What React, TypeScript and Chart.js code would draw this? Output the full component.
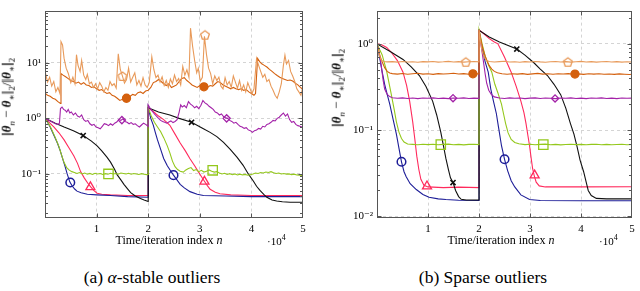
import React, { useEffect, useRef } from 'react';
import { Chart, registerables } from 'chart.js';

Chart.register(...registerables);

type P = [number, number];

// ---------- (a) alpha-stable outliers ----------
const aLightOrange: P[] = [
  [0, 1.0], [0.01, 6.5], [0.05, 4.5], [0.09, 5.5], [0.13, 3.8], [0.17, 4.6], [0.21, 3.0], [0.25, 3.6], [0.29, 2.8],
  [0.31, 24], [0.34, 21], [0.37, 12], [0.41, 8], [0.45, 6.5], [0.5, 4.4], [0.54, 5.5], [0.58, 4.2], [0.61, 14],
  [0.64, 9], [0.68, 7], [0.71, 11], [0.75, 6], [0.79, 5], [0.82, 6.2], [0.86, 4.2], [0.9, 4.5], [0.94, 3.6],
  [0.98, 4.2], [1.02, 3.4], [1.06, 4.4], [1.1, 3.8], [1.14, 3.0], [1.18, 3.6], [1.22, 3.2], [1.26, 4.6], [1.3, 3.9],
  [1.34, 4.2], [1.38, 3.5], [1.42, 14.5], [1.46, 7.5], [1.5, 5.8], [1.54, 4.3], [1.58, 5.0], [1.62, 8.0], [1.66, 4.5],
  [1.7, 5.5], [1.74, 6.6], [1.78, 4.0], [1.82, 4.8], [1.86, 3.8], [1.9, 5.4], [1.94, 4.0], [1.98, 3.6], [2.02, 4.4],
  [2.07, 12.8], [2.11, 7.5], [2.15, 5.4], [2.19, 6.0], [2.23, 4.5], [2.27, 5.6], [2.31, 3.9], [2.35, 4.8], [2.39, 3.6],
  [2.43, 5.1], [2.47, 4.2], [2.51, 6.0], [2.55, 4.6], [2.59, 5.2], [2.63, 4.0], [2.67, 8.6], [2.71, 6.0], [2.75, 7.5],
  [2.79, 5.5], [2.82, 42], [2.86, 20], [2.9, 11], [2.94, 6.6], [2.97, 8.0], [3.01, 4.7], [3.05, 5.5], [3.09, 30],
  [3.13, 14], [3.17, 8], [3.21, 6.4], [3.25, 4.2], [3.29, 5.8], [3.33, 4.8], [3.37, 5.5], [3.41, 3.8], [3.45, 3.4],
  [3.49, 5.4], [3.53, 4.0], [3.57, 4.6], [3.61, 3.6], [3.65, 5.8], [3.69, 4.5], [3.73, 3.5], [3.77, 4.8], [3.81, 3.2],
  [3.85, 4.0], [3.89, 3.0], [3.93, 4.4], [3.97, 3.5], [4.01, 2.8], [4.05, 3.4], [4.1, 12], [4.14, 9], [4.18, 7],
  [4.22, 5.5], [4.26, 6.2], [4.3, 4.6], [4.34, 5.0], [4.38, 3.8], [4.42, 3.2], [4.46, 2.6], [4.5, 2.3], [4.54, 3.0],
  [4.58, 4.2], [4.62, 9], [4.65, 13.7], [4.68, 9.5], [4.72, 11], [4.76, 7], [4.8, 5.8], [4.84, 4.6], [4.88, 3.4],
  [4.92, 3.0], [4.96, 2.6], [5.0, 3.8],
];
const aDarkOrange: P[] = [
  [0, 1.0], [0.01, 2.8], [0.05, 2.6], [0.1, 2.5], [0.15, 2.3], [0.2, 2.2], [0.25, 2.0], [0.3, 1.85], [0.31, 6.4],
  [0.35, 6.0], [0.4, 5.6], [0.45, 5.2], [0.5, 4.8], [0.55, 4.6], [0.6, 4.3], [0.65, 4.5], [0.7, 4.1], [0.75, 4.4],
  [0.8, 4.0], [0.85, 3.9], [0.9, 3.6], [0.95, 3.7], [1.0, 3.4], [1.05, 3.2], [1.1, 3.3], [1.15, 3.0], [1.2, 2.8],
  [1.25, 2.9], [1.3, 2.6], [1.35, 2.5], [1.4, 2.3], [1.45, 2.1], [1.5, 2.2], [1.55, 2.0], [1.6, 2.3], [1.65, 2.5],
  [1.7, 2.7], [1.75, 2.6], [1.8, 2.9], [1.85, 3.0], [1.9, 2.8], [1.95, 3.1], [2.0, 3.2], [2.05, 3.6], [2.1, 4.4],
  [2.15, 4.6], [2.2, 5.0], [2.25, 4.6], [2.3, 4.2], [2.35, 3.9], [2.4, 4.2], [2.45, 3.6], [2.5, 3.8], [2.55, 4.0],
  [2.6, 4.6], [2.65, 5.2], [2.7, 5.4], [2.75, 4.8], [2.8, 4.4], [2.85, 4.0], [2.9, 3.8], [2.95, 3.6], [3.0, 3.9],
  [3.05, 3.7], [3.1, 3.8], [3.15, 3.6], [3.2, 3.9], [3.25, 3.8], [3.3, 4.2], [3.35, 4.6], [3.4, 4.4], [3.45, 4.0],
  [3.5, 3.8], [3.55, 3.6], [3.6, 3.4], [3.65, 3.6], [3.7, 3.4], [3.75, 3.3], [3.8, 3.4], [3.85, 3.2], [3.9, 3.3],
  [3.95, 3.0], [4.0, 2.8], [4.05, 2.6], [4.08, 2.8], [4.12, 12], [4.16, 10.5], [4.2, 9.6], [4.25, 9.0], [4.3, 8.4],
  [4.35, 7.6], [4.4, 7.0], [4.45, 6.4], [4.5, 5.9], [4.55, 5.5], [4.6, 5.2], [4.65, 5.0], [4.7, 4.8], [4.75, 4.9],
  [4.8, 4.7], [4.85, 4.3], [4.9, 4.0], [4.95, 3.6], [5.0, 3.3],
];
const aPurple: P[] = [
  [0, 1.0], [0.05, 0.95], [0.1, 0.9], [0.15, 0.85], [0.2, 0.8], [0.25, 0.78], [0.28, 0.82], [0.3, 1.5], [0.33, 1.6],
  [0.36, 1.45], [0.39, 1.4], [0.42, 1.3], [0.45, 1.45], [0.48, 1.25], [0.51, 1.3], [0.55, 1.15], [0.59, 1.25],
  [0.63, 1.1], [0.67, 1.05], [0.71, 1.15], [0.75, 0.95], [0.79, 0.88], [0.83, 0.92], [0.87, 0.8], [0.91, 0.75],
  [0.95, 0.78], [0.99, 0.7], [1.03, 0.68], [1.07, 0.65], [1.11, 0.72], [1.15, 0.8], [1.19, 0.78], [1.23, 0.74],
  [1.27, 0.8], [1.31, 0.75], [1.35, 0.82], [1.39, 0.86], [1.43, 0.95], [1.47, 0.92], [1.51, 0.98], [1.55, 0.88],
  [1.59, 0.85], [1.63, 0.8], [1.67, 0.84], [1.71, 0.78], [1.75, 0.8], [1.79, 0.74], [1.83, 0.7], [1.87, 0.76],
  [1.91, 0.82], [1.95, 0.78], [2.0, 0.72], [2.0, 1.75], [2.04, 1.5], [2.08, 1.35], [2.12, 1.2], [2.16, 1.1], [2.2, 1.0],
  [2.24, 0.92], [2.28, 0.88], [2.32, 0.85], [2.36, 0.82], [2.4, 0.86], [2.44, 0.9], [2.48, 0.84], [2.52, 0.88],
  [2.56, 0.95], [2.6, 1.3], [2.63, 1.75], [2.66, 1.6], [2.7, 1.7], [2.74, 1.55], [2.78, 2.0], [2.82, 1.8], [2.86, 1.7],
  [2.9, 1.55], [2.94, 1.65], [2.98, 1.5], [3.02, 1.7], [3.06, 2.1], [3.1, 1.9], [3.14, 1.8], [3.18, 1.65], [3.22, 1.55],
  [3.26, 1.45], [3.3, 1.3], [3.34, 1.25], [3.38, 1.15], [3.42, 1.2], [3.46, 1.08], [3.5, 1.02], [3.54, 1.0],
  [3.58, 0.92], [3.62, 0.88], [3.66, 0.82], [3.7, 0.85], [3.74, 0.78], [3.78, 0.72], [3.82, 0.7], [3.86, 0.66],
  [3.9, 0.68], [3.94, 0.62], [3.98, 0.6], [4.02, 0.56], [4.06, 0.6], [4.1, 0.62], [4.14, 0.66], [4.18, 0.64],
  [4.22, 0.72], [4.26, 0.7], [4.3, 0.78], [4.34, 0.8], [4.38, 0.85], [4.42, 0.92], [4.46, 0.9], [4.5, 1.0],
  [4.54, 1.05], [4.58, 1.15], [4.62, 1.25], [4.66, 1.1], [4.7, 1.2], [4.74, 0.95], [4.78, 0.85], [4.82, 0.88],
  [4.86, 0.78], [4.9, 0.74], [4.94, 0.72], [4.98, 0.7], [5.0, 0.68],
];
const aBlack: P[] = [
  [0, 1.0], [0.2, 0.82], [0.37, 0.7], [0.55, 0.6], [0.74, 0.49], [0.9, 0.39], [1.01, 0.32], [1.1, 0.26], [1.2, 0.2],
  [1.27, 0.163], [1.35, 0.12], [1.4, 0.096], [1.47, 0.078], [1.53, 0.065], [1.6, 0.054], [1.66, 0.046], [1.75, 0.04],
  [1.85, 0.036], [1.92, 0.034], [2.0, 0.032], [2.0, 1.55], [2.2, 1.3], [2.42, 1.15], [2.6, 1.0], [2.84, 0.85],
  [3.07, 0.65], [3.2, 0.56], [3.33, 0.47], [3.46, 0.37], [3.59, 0.276], [3.72, 0.2], [3.84, 0.143], [3.94, 0.1],
  [4.04, 0.074], [4.1, 0.06], [4.17, 0.05], [4.24, 0.043], [4.3, 0.038], [4.4, 0.034], [4.49, 0.0325], [4.6, 0.0315],
  [4.75, 0.031], [5.0, 0.031],
];
const aBlue: P[] = [
  [0, 1.0], [0.05, 0.85], [0.1, 0.7], [0.17, 0.5], [0.24, 0.36], [0.29, 0.27], [0.34, 0.19], [0.39, 0.135],
  [0.43, 0.1], [0.48, 0.072], [0.53, 0.06], [0.58, 0.053], [0.62, 0.049], [0.7, 0.046], [0.82, 0.043], [1.0, 0.042],
  [1.27, 0.041], [1.6, 0.039], [2.0, 0.038], [2.0, 1.55], [2.05, 1.0], [2.1, 0.75], [2.14, 0.55], [2.18, 0.41],
  [2.24, 0.28], [2.3, 0.19], [2.37, 0.14], [2.43, 0.115], [2.49, 0.095], [2.55, 0.08], [2.62, 0.065], [2.7, 0.056],
  [2.81, 0.048], [2.95, 0.043], [3.07, 0.041], [3.5, 0.04], [4.0, 0.039], [4.5, 0.039], [5.0, 0.039],
];
const aRed: P[] = [
  [0, 1.0], [0.08, 0.85], [0.17, 0.7], [0.27, 0.55], [0.37, 0.41], [0.46, 0.3], [0.56, 0.21], [0.63, 0.155],
  [0.69, 0.11], [0.76, 0.085], [0.83, 0.068], [0.89, 0.058], [0.95, 0.05], [1.01, 0.045], [1.1, 0.043], [1.27, 0.042],
  [1.6, 0.041], [2.0, 0.041], [2.0, 1.55], [2.11, 1.3], [2.2, 1.1], [2.3, 0.95], [2.36, 0.85], [2.42, 0.75],
  [2.52, 0.52], [2.62, 0.36], [2.72, 0.26], [2.81, 0.187], [2.9, 0.14], [2.97, 0.11], [3.03, 0.09], [3.09, 0.074],
  [3.15, 0.061], [3.2, 0.053], [3.3, 0.047], [3.39, 0.044], [3.6, 0.042], [4.0, 0.041], [5.0, 0.041],
];
const aGreen: P[] = [
  [0, 1.0], [0.05, 0.85], [0.1, 0.72], [0.14, 0.6], [0.2, 0.45], [0.27, 0.31], [0.32, 0.22], [0.37, 0.16],
  [0.42, 0.13], [0.47, 0.117], [0.52, 0.11], [0.57, 0.106], [0.62, 0.102], [0.67, 0.106], [0.72, 0.1], [0.77, 0.104],
  [0.82, 0.099], [0.87, 0.102], [0.92, 0.098], [0.97, 0.103], [1.02, 0.1], [1.07, 0.102], [1.12, 0.098], [1.17, 0.101],
  [1.22, 0.099], [1.27, 0.103], [1.32, 0.1], [1.37, 0.102], [1.42, 0.099], [1.47, 0.104], [1.52, 0.102], [1.57, 0.1],
  [1.62, 0.103], [1.67, 0.099], [1.72, 0.102], [1.77, 0.1], [1.82, 0.098], [1.87, 0.101], [1.92, 0.099], [1.97, 0.097],
  [2.0, 0.098], [2.0, 1.55], [2.06, 1.1], [2.12, 0.85], [2.18, 0.7], [2.24, 0.58], [2.3, 0.45], [2.37, 0.32],
  [2.42, 0.24], [2.47, 0.17], [2.52, 0.135], [2.57, 0.12], [2.62, 0.112], [2.68, 0.108], [2.73, 0.118], [2.78, 0.125],
  [2.83, 0.13], [2.88, 0.115], [2.93, 0.12], [2.98, 0.11], [3.03, 0.116], [3.08, 0.108], [3.13, 0.112], [3.18, 0.118],
  [3.23, 0.112], [3.28, 0.108], [3.33, 0.11], [3.38, 0.104], [3.43, 0.1], [3.48, 0.103], [3.53, 0.098], [3.58, 0.101],
  [3.63, 0.097], [3.68, 0.1], [3.73, 0.096], [3.78, 0.099], [3.83, 0.096], [3.88, 0.098], [3.93, 0.095], [3.98, 0.097],
  [4.03, 0.1], [4.08, 0.104], [4.13, 0.102], [4.18, 0.106], [4.23, 0.104], [4.28, 0.108], [4.33, 0.106], [4.38, 0.11],
  [4.43, 0.105], [4.48, 0.102], [4.53, 0.104], [4.58, 0.1], [4.63, 0.102], [4.68, 0.099], [4.73, 0.1], [4.78, 0.097],
  [4.83, 0.099], [4.88, 0.096], [4.93, 0.095], [4.98, 0.094], [5.0, 0.094],
];
const aMarkLightOrange: P[] = [[1.5, 5.8], [3.1, 32]];
const aMarkDarkOrange: P[] = [[1.58, 2.3], [3.08, 3.7]];
const aMarkPurple: P[] = [[1.49, 0.93], [3.52, 1.0]];
const aMarkBlack: P[] = [[0.74, 0.49], [2.84, 0.85]];
const aMarkBlue: P[] = [[0.49, 0.07], [2.49, 0.095]];
const aMarkRed: P[] = [[0.88, 0.058], [3.09, 0.073]];
const aMarkGreen: P[] = [[1.23, 0.1], [3.25, 0.116]];

// ---------- (b) sparse outliers ----------
const bLightOrange: P[] = [
  [0, 1.0], [0.02, 0.86], [0.05, 0.72], [0.08, 0.65], [0.12, 0.625], [0.2, 0.618], [0.3, 0.622], [0.4, 0.614],
  [0.5, 0.624], [0.6, 0.617], [0.7, 0.621], [0.8, 0.613], [0.9, 0.623], [1.0, 0.618], [1.1, 0.626], [1.2, 0.615],
  [1.3, 0.62], [1.4, 0.627], [1.5, 0.617], [1.6, 0.623], [1.7, 0.615], [1.8, 0.62], [1.9, 0.626], [2.0, 0.619],
  [2.0, 1.45], [2.03, 1.05], [2.06, 0.82], [2.1, 0.7], [2.14, 0.645], [2.2, 0.626], [2.3, 0.616], [2.4, 0.622],
  [2.5, 0.628], [2.6, 0.617], [2.7, 0.621], [2.8, 0.613], [2.9, 0.623], [3.0, 0.616], [3.1, 0.625], [3.2, 0.618],
  [3.3, 0.613], [3.4, 0.621], [3.5, 0.626], [3.6, 0.617], [3.7, 0.622], [3.8, 0.614], [3.9, 0.62], [4.0, 0.627],
  [4.1, 0.616], [4.2, 0.622], [4.3, 0.615], [4.4, 0.62], [4.5, 0.626], [4.6, 0.616], [4.7, 0.622], [4.8, 0.614],
  [4.9, 0.621], [5.0, 0.617],
];
const bDarkOrange: P[] = [
  [0, 1.0], [0.03, 0.84], [0.06, 0.72], [0.1, 0.62], [0.15, 0.53], [0.2, 0.48], [0.25, 0.46], [0.3, 0.452],
  [0.4, 0.446], [0.5, 0.453], [0.6, 0.444], [0.7, 0.45], [0.8, 0.456], [0.9, 0.446], [1.0, 0.451], [1.1, 0.443],
  [1.2, 0.452], [1.3, 0.447], [1.4, 0.451], [1.5, 0.456], [1.6, 0.447], [1.7, 0.452], [1.8, 0.445], [1.9, 0.45],
  [2.0, 0.449], [2.0, 1.45], [2.04, 1.08], [2.08, 0.86], [2.12, 0.72], [2.16, 0.63], [2.2, 0.56], [2.25, 0.51],
  [2.3, 0.48], [2.36, 0.462], [2.45, 0.45], [2.55, 0.444], [2.65, 0.451], [2.75, 0.446], [2.85, 0.452], [2.95, 0.443],
  [3.05, 0.449], [3.15, 0.455], [3.25, 0.446], [3.35, 0.451], [3.45, 0.444], [3.55, 0.45], [3.65, 0.447], [3.75, 0.452],
  [3.85, 0.444], [3.95, 0.449], [4.05, 0.443], [4.15, 0.45], [4.25, 0.446], [4.35, 0.451], [4.45, 0.444], [4.55, 0.448],
  [4.65, 0.443], [4.75, 0.449], [4.85, 0.445], [4.95, 0.441], [5.0, 0.444],
];
const bPurple: P[] = [
  [0, 1.0], [0.03, 0.85], [0.06, 0.7], [0.09, 0.52], [0.12, 0.38], [0.15, 0.3], [0.2, 0.26], [0.25, 0.245],
  [0.3, 0.238], [0.4, 0.234], [0.5, 0.237], [0.6, 0.233], [0.7, 0.236], [0.8, 0.232], [0.9, 0.236], [1.0, 0.234],
  [1.1, 0.237], [1.2, 0.233], [1.3, 0.235], [1.4, 0.232], [1.5, 0.236], [1.6, 0.234], [1.7, 0.237], [1.8, 0.233],
  [1.9, 0.235], [2.0, 0.234], [2.0, 1.45], [2.03, 1.05], [2.06, 0.8], [2.09, 0.6], [2.12, 0.45], [2.15, 0.35],
  [2.19, 0.29], [2.24, 0.26], [2.3, 0.243], [2.4, 0.236], [2.5, 0.233], [2.6, 0.237], [2.7, 0.234], [2.8, 0.236],
  [2.9, 0.232], [3.0, 0.235], [3.1, 0.237], [3.2, 0.233], [3.3, 0.236], [3.4, 0.234], [3.5, 0.232], [3.6, 0.236],
  [3.7, 0.234], [3.8, 0.237], [3.9, 0.233], [4.0, 0.235], [4.1, 0.232], [4.2, 0.236], [4.3, 0.234], [4.4, 0.237],
  [4.5, 0.233], [4.6, 0.235], [4.7, 0.232], [4.8, 0.236], [4.9, 0.234], [5.0, 0.235],
];
const bBlack: P[] = [
  [0, 1.0], [0.25, 0.82], [0.51, 0.66], [0.67, 0.54], [0.83, 0.43], [0.96, 0.32], [1.09, 0.217], [1.17, 0.15],
  [1.25, 0.095], [1.3, 0.067], [1.35, 0.047], [1.4, 0.035], [1.44, 0.028], [1.49, 0.0247], [1.54, 0.02], [1.6, 0.017],
  [1.65, 0.0158], [1.75, 0.0155], [2.0, 0.0155], [2.0, 1.44], [2.2, 1.2], [2.4, 1.05], [2.57, 0.96], [2.74, 0.87],
  [2.9, 0.74], [3.08, 0.6], [3.2, 0.51], [3.34, 0.43], [3.47, 0.34], [3.6, 0.258], [3.7, 0.18], [3.79, 0.12],
  [3.86, 0.09], [3.92, 0.065], [3.98, 0.045], [4.05, 0.033], [4.1, 0.025], [4.14, 0.02], [4.2, 0.0175], [4.3, 0.0162],
  [4.5, 0.016], [5.0, 0.016],
];
const bBlue: P[] = [
  [0, 1.0], [0.05, 0.7], [0.1, 0.48], [0.15, 0.34], [0.2, 0.26], [0.25, 0.2], [0.32, 0.13], [0.38, 0.09],
  [0.43, 0.062], [0.48, 0.043], [0.53, 0.033], [0.57, 0.029], [0.65, 0.024], [0.77, 0.0205], [0.9, 0.018],
  [1.02, 0.0167], [1.2, 0.016], [1.35, 0.0157], [1.6, 0.0154], [2.0, 0.0153], [2.0, 1.45], [2.06, 0.9], [2.12, 0.62],
  [2.18, 0.47], [2.23, 0.3], [2.28, 0.22], [2.34, 0.155], [2.38, 0.11], [2.44, 0.066], [2.5, 0.046], [2.56, 0.034],
  [2.63, 0.026], [2.7, 0.022], [2.82, 0.0178], [2.99, 0.0157], [3.2, 0.0153], [4.0, 0.0152], [5.0, 0.0152],
];
const bRed: P[] = [
  [0, 1.0], [0.1, 0.97], [0.19, 0.91], [0.28, 0.8], [0.4, 0.64], [0.51, 0.47], [0.58, 0.33], [0.64, 0.217],
  [0.7, 0.125], [0.74, 0.08], [0.78, 0.05], [0.82, 0.035], [0.86, 0.027], [0.92, 0.023], [1.0, 0.022], [1.3, 0.0216],
  [1.6, 0.0219], [2.0, 0.0216], [2.0, 1.45], [2.1, 1.3], [2.2, 1.15], [2.3, 1.05], [2.37, 1.0], [2.5, 0.7],
  [2.63, 0.47], [2.73, 0.32], [2.82, 0.217], [2.88, 0.16], [2.92, 0.12], [2.96, 0.085], [2.99, 0.066], [3.02, 0.048],
  [3.05, 0.036], [3.08, 0.03], [3.12, 0.025], [3.18, 0.0226], [3.3, 0.022], [4.0, 0.022], [5.0, 0.0221],
];
const bGreen: P[] = [
  [0, 1.0], [0.1, 0.75], [0.19, 0.48], [0.28, 0.26], [0.34, 0.17], [0.38, 0.125], [0.43, 0.095], [0.48, 0.08],
  [0.53, 0.073], [0.6, 0.069], [0.7, 0.0685], [0.8, 0.0678], [0.9, 0.0688], [1.0, 0.068], [1.1, 0.0686], [1.2, 0.0677],
  [1.3, 0.0684], [1.4, 0.0689], [1.5, 0.0679], [1.6, 0.0685], [1.7, 0.0676], [1.8, 0.0684], [1.9, 0.0688], [2.0, 0.068],
  [2.0, 1.45], [2.06, 1.0], [2.12, 0.72], [2.18, 0.58], [2.25, 0.47], [2.31, 0.34], [2.37, 0.27], [2.44, 0.2],
  [2.48, 0.155], [2.52, 0.12], [2.57, 0.093], [2.63, 0.078], [2.7, 0.072], [2.78, 0.0695], [2.9, 0.068], [3.0, 0.0686],
  [3.1, 0.0678], [3.2, 0.0684], [3.3, 0.0689], [3.4, 0.0679], [3.5, 0.0685], [3.6, 0.0676], [3.7, 0.0683], [3.8, 0.0688],
  [3.9, 0.068], [4.0, 0.0685], [4.1, 0.0677], [4.2, 0.0684], [4.3, 0.0688], [4.4, 0.0679], [4.5, 0.0685], [4.6, 0.0677],
  [4.7, 0.0683], [4.8, 0.0687], [4.9, 0.0679], [5.0, 0.0683],
];
const bMarkLightOrange: P[] = [[1.74, 0.62], [3.74, 0.62]];
const bMarkDarkOrange: P[] = [[1.88, 0.45], [3.88, 0.447]];
const bMarkPurple: P[] = [[1.49, 0.235], [3.49, 0.233]];
const bMarkBlack: P[] = [[1.49, 0.0247], [2.74, 0.87]];
const bMarkBlue: P[] = [[0.48, 0.043], [2.5, 0.046]];
const bMarkRed: P[] = [[0.98, 0.0224], [3.09, 0.03]];
const bMarkGreen: P[] = [[1.25, 0.068], [3.26, 0.068]];

const xTickValues = [0, 1, 2, 3, 4, 5];

// ---------- styling ----------
const SERIF = "'Liberation Serif', 'DejaVu Serif', serif";
const C_LIGHT = '#E89A5A';
const C_DARK = '#D4600E';
const C_PURPLE = '#A322A8';
const C_BLACK = '#111111';
const C_BLUE = '#1E1E98';
const C_RED = '#FF2A5C';
const C_GREEN = '#94C81C';
const GRID = '#d4d4d4';
const AXIS = '#555555';

const SUP: Record<string, string> = {
  '-': '\u207B', '0': '\u2070', '1': '\u00B9', '2': '\u00B2', '3': '\u00B3',
  '4': '\u2074', '5': '\u2075', '6': '\u2076', '7': '\u2077', '8': '\u2078', '9': '\u2079',
};

function isDecade(v: number) {
  const e = Math.log10(v);
  return Math.abs(e - Math.round(e)) < 1e-9;
}
function decadeLabel(v: number) {
  if (!isDecade(v)) return '';
  const e = Math.round(Math.log10(v));
  return '10' + String(e).split('').map((c) => SUP[c]).join('');
}
function logTicks(min: number, max: number) {
  const out: { value: number }[] = [];
  for (let e = Math.floor(Math.log10(min)); e <= Math.ceil(Math.log10(max)); e++) {
    for (let m = 1; m <= 9; m++) {
      const v = m * Math.pow(10, e);
      if (v >= min && v <= max) out.push({ value: v });
    }
  }
  return out;
}

function makePentagon(color: string, r: number, lw: number) {
  const c = document.createElement('canvas');
  const s = Math.ceil(2 * r + lw * 2 + 2);
  c.width = s;
  c.height = s;
  const g = c.getContext('2d')!;
  g.strokeStyle = color;
  g.lineWidth = lw;
  g.beginPath();
  for (let i = 0; i < 5; i++) {
    const a = -Math.PI / 2 + (i * 2 * Math.PI) / 5;
    const px = s / 2 + r * Math.cos(a);
    const py = s / 2 + r * Math.sin(a) + 0.6;
    if (i === 0) g.moveTo(px, py);
    else g.lineTo(px, py);
  }
  g.closePath();
  g.stroke();
  return c;
}

const frameTicks = {
  id: 'frameTicks',
  afterDraw(chart: any) {
    const { ctx, chartArea: a } = chart;
    const xs = chart.scales.x;
    const ys = chart.scales.y;
    const L = Math.round(a.left) + 0.5;
    const R = Math.round(a.right) - 0.5;
    const T = Math.round(a.top) + 0.5;
    const B = Math.round(a.bottom) - 0.5;
    ctx.save();
    ctx.strokeStyle = AXIS;
    ctx.lineWidth = 1;
    ctx.setLineDash([]);
    ctx.beginPath();
    for (const t of ys.ticks) {
      const py = Math.round(ys.getPixelForValue(t.value)) + 0.5;
      const len = isDecade(t.value) ? 4 : 2.5;
      ctx.moveTo(L, py); ctx.lineTo(L + len, py);
      ctx.moveTo(R, py); ctx.lineTo(R - len, py);
    }
    for (const t of xs.ticks) {
      if (t.value <= 0 || t.value >= 5) continue;
      const px = Math.round(xs.getPixelForValue(t.value)) + 0.5;
      ctx.moveTo(px, B); ctx.lineTo(px, B - 4);
      ctx.moveTo(px, T); ctx.lineTo(px, T + 4);
    }
    ctx.stroke();
    ctx.strokeRect(L, T, R - L, B - T);
    ctx.restore();
  },
};

interface Panel {
  lines: { data: P[]; color: string }[];
  marks: { data: P[]; color: string; style: any; radius: number; fill?: boolean; width?: number }[];
  yMin: number;
  yMax: number;
  yAxisWidth: number;
  padRight: number;
  padTop: number;
}

function buildConfig(p: Panel): any {
  const datasets: any[] = [];
  p.marks.forEach((m) => {
    datasets.push({
      data: m.data.map(([x, y]) => ({ x, y })),
      showLine: false,
      pointStyle: m.style,
      pointRadius: m.radius,
      pointBorderColor: m.color,
      pointBackgroundColor: m.fill ? m.color : 'rgba(0,0,0,0)',
      pointBorderWidth: m.width ?? 1.3,
      order: 0,
    });
  });
  p.lines.forEach((l) => {
    datasets.push({
      data: l.data.map(([x, y]) => ({ x, y })),
      borderColor: l.color,
      borderWidth: 1.1,
      pointRadius: 0,
      fill: false,
      tension: 0,
      order: 1,
    });
  });
  return {
    type: 'line',
    data: { datasets },
    plugins: [frameTicks],
    options: {
      animation: false,
      responsive: false,
      maintainAspectRatio: false,
      events: [],
      layout: { padding: { left: 0, right: p.padRight, top: p.padTop, bottom: 0 } },
      plugins: { legend: { display: false }, tooltip: { enabled: false } },
      scales: {
        x: {
          type: 'linear',
          min: 0,
          max: 5,
          afterBuildTicks: (s: any) => { s.ticks = xTickValues.map((v) => ({ value: v })); },
          afterFit: (s: any) => { s.height = 22; },
          grid: {
            color: (c: any) => (c.tick && c.tick.value > 0 && c.tick.value < 5 ? GRID : 'rgba(0,0,0,0)'),
            drawTicks: false,
            lineWidth: 1,
          },
          border: { display: false, dash: [3, 3] },
          ticks: {
            padding: 5,
            color: '#000',
            autoSkip: false,
            maxRotation: 0,
            font: { family: SERIF, size: 11 },
            callback: (v: any) => (Number(v) === 0 ? '' : String(v)),
          },
        },
        y: {
          type: 'logarithmic',
          min: p.yMin,
          max: p.yMax,
          afterBuildTicks: (s: any) => { s.ticks = logTicks(p.yMin, p.yMax); },
          afterFit: (s: any) => { s.width = p.yAxisWidth; },
          grid: {
            color: (c: any) => (c.tick && isDecade(c.tick.value) ? GRID : 'rgba(0,0,0,0)'),
            drawTicks: false,
            lineWidth: 1,
          },
          border: { display: false, dash: [3, 3] },
          ticks: {
            padding: 4,
            color: '#000',
            autoSkip: false,
            font: { family: SERIF, size: 11 },
            callback: (v: any) => decadeLabel(Number(v)),
          },
        },
      },
    },
  };
}

function ChartPanel({ panel, left }: { panel: () => Panel; left: number }) {
  const ref = useRef<HTMLCanvasElement>(null);
  useEffect(() => {
    if (!ref.current) return;
    const chart = new Chart(ref.current, buildConfig(panel()));
    return () => chart.destroy();
  }, []);
  return (
    <canvas
      ref={ref}
      width={320}
      height={240}
      style={{ position: 'absolute', left, top: 0, width: 320, height: 240 }}
    />
  );
}

function marksFor(
  light: P[], dark: P[], purple: P[], black: P[], blue: P[], red: P[], green: P[]
) {
  return [
    { data: light, color: C_LIGHT, style: makePentagon(C_LIGHT, 4.6, 1.3), radius: 5 },
    { data: dark, color: C_DARK, style: 'circle', radius: 4, fill: true },
    { data: purple, color: C_PURPLE, style: 'rectRot', radius: 3.6 },
    { data: black, color: C_BLACK, style: 'crossRot', radius: 3.6, width: 1.6 },
    { data: blue, color: C_BLUE, style: 'circle', radius: 4.3, width: 1.5 },
    { data: red, color: C_RED, style: 'triangle', radius: 5.2 },
    { data: green, color: C_GREEN, style: 'rect', radius: 6.6 },
  ];
}

const panelA = (): Panel => ({
  lines: [
    { data: aLightOrange, color: C_LIGHT },
    { data: aDarkOrange, color: C_DARK },
    { data: aPurple, color: C_PURPLE },
    { data: aGreen, color: C_GREEN },
    { data: aBlack, color: C_BLACK },
    { data: aBlue, color: C_BLUE },
    { data: aRed, color: C_RED },
  ],
  marks: marksFor(aMarkLightOrange, aMarkDarkOrange, aMarkPurple, aMarkBlack, aMarkBlue, aMarkRed, aMarkGreen),
  yMin: 0.0161,
  yMax: 87,
  yAxisWidth: 45,
  padRight: 17,
  padTop: 2,
});

const panelB = (): Panel => ({
  lines: [
    { data: bLightOrange, color: C_LIGHT },
    { data: bDarkOrange, color: C_DARK },
    { data: bPurple, color: C_PURPLE },
    { data: bGreen, color: C_GREEN },
    { data: bBlack, color: C_BLACK },
    { data: bBlue, color: C_BLUE },
    { data: bRed, color: C_RED },
  ],
  marks: marksFor(bMarkLightOrange, bMarkDarkOrange, bMarkPurple, bMarkBlack, bMarkBlue, bMarkRed, bMarkGreen),
  yMin: 0.0096,
  yMax: 2.43,
  yAxisWidth: 57,
  padRight: 4,
  padTop: 3,
});

const txt: React.CSSProperties = { position: 'absolute', fontFamily: SERIF, color: '#000', whiteSpace: 'nowrap', lineHeight: 1 };

function Norm() {
  return <span style={{ letterSpacing: -1.5, marginRight: 1.5 }}>||</span>;
}

function YTitle({ cx, cy }: { cx: number; cy: number }) {
  const th = <b><i>θ</i></b>;
  const sub = { fontSize: 9 };
  return (
    <div style={{ ...txt, left: cx, top: cy, fontSize: 13, transform: 'translate(-50%, -50%) rotate(-90deg)' }}>
      <Norm />{th}<sub style={sub}><i>n</i></sub> − {th}<sub style={sub}>∗</sub><Norm /><sub style={sub}>2</sub>/<Norm />{th}<sub style={sub}>∗</sub><Norm /><sub style={sub}>2</sub>
    </div>
  );
}

function XTitle({ cx, sx }: { cx: number; sx: number }) {
  return (
    <>
      <div style={{ ...txt, left: cx, top: 234, fontSize: 12, transform: 'translateX(-50%)' }}>
        Time/iteration index <i>n</i>
      </div>
      <div style={{ ...txt, left: sx, top: 234, fontSize: 11 }}>
        ·10<sup style={{ fontSize: 8 }}>4</sup>
      </div>
    </>
  );
}

export default function App() {
  return (
    <div style={{ position: 'fixed', left: 0, top: 0, width: 640, height: 291, background: '#fff', overflow: 'hidden' }}>
      <ChartPanel panel={panelA} left={0} />
      <ChartPanel panel={panelB} left={320} />
      <YTitle cx={8} cy={97} />
      <YTitle cx={338} cy={88} />
      <XTitle cx={169} sx={267} />
      <XTitle cx={501} sx={599} />
      <div style={{ ...txt, left: 152, top: 278, fontSize: 17.5, transform: 'translate(-50%, -50%)' }}>
        (a) <i>α</i>-stable outliers
      </div>
      <div style={{ ...txt, left: 483, top: 278, fontSize: 17.5, transform: 'translate(-50%, -50%)' }}>
        (b) Sparse outliers
      </div>
    </div>
  );
}
